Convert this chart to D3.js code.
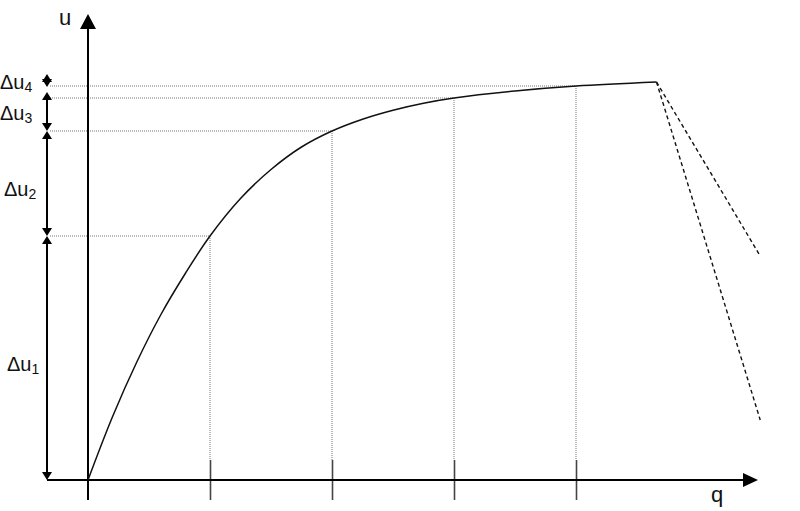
<!DOCTYPE html>
<html>
<head>
<meta charset="utf-8">
<script src="https://cdn.jsdelivr.net/npm/d3@7"></script>
<style>
html,body{margin:0;padding:0;background:#fff;}
svg{display:block;}
text{font-family:"Liberation Sans",Arial,sans-serif;fill:#111;}
</style>
</head>
<body>
<svg id="chart" width="800" height="511"></svg>
<script>
// ---- data ----
const curveQ = [0, 0.2, 0.4, 0.6, 0.8, 1.0, 1.25, 1.5, 1.75, 2.0, 2.25, 2.5, 2.75, 3.0, 3.5, 4.0, 4.66];
const curveU = [0, 63, 118, 166, 207, 244, 281.5, 310.5, 333, 349, 360.8, 369.8, 376.8, 382, 389, 394, 398];
const tickQ = [1, 2, 3, 4];
const tickU = [244, 349, 382, 394];          // levels where the curve meets each tick
const deltaLabels = ["1", "2", "3", "4"];
const deltaLow  = [0, 244, 349, 393];
const deltaHigh = [244, 349, 388, 406];
const peakQ = 4.66, peakU = 398;
const branchEndQ = [5.51, 5.51];
const branchEndU = [224, 60];

// ---- scales ----
const x = d3.scaleLinear().domain([0, 5.5]).range([88, 759]);
const y = d3.scaleLinear().domain([0, 465]).range([480, 15]);
const svg = d3.select("#chart");
const leftX = 47;

// dotted guide lines
const dotted = svg.append("g").attr("stroke", "#777").attr("stroke-width", 1).attr("stroke-dasharray", "1,1").attr("fill", "none");
tickQ.forEach((q, i) => {
  dotted.append("line").attr("x1", leftX + 3).attr("x2", x(q)).attr("y1", y(tickU[i])).attr("y2", y(tickU[i]));
  dotted.append("line").attr("x1", x(q)).attr("x2", x(q)).attr("y1", y(tickU[i])).attr("y2", y(0) - 20);
});

// ticks via d3 axes (both sides of the q axis)
const axB = d3.axisBottom(x).tickValues(tickQ).tickSize(20).tickFormat("");
const axT = d3.axisTop(x).tickValues(tickQ).tickSize(20).tickFormat("");
[axB, axT].forEach(ax => {
  const g = svg.append("g").attr("transform", `translate(0,${y(0)})`).call(ax);
  g.select(".domain").remove();
  g.selectAll(".tick line").attr("stroke", "#444").attr("stroke-width", 1.6);
});

// axes lines
svg.append("line").attr("x1", leftX).attr("x2", 744).attr("y1", y(0)).attr("y2", y(0)).attr("stroke", "#000").attr("stroke-width", 2);
svg.append("path").attr("d", `M758,${y(0)} L743,${y(0)-7} L743,${y(0)+7} Z`).attr("fill", "#000");
svg.append("line").attr("x1", x(0)).attr("x2", x(0)).attr("y1", 500).attr("y2", 28).attr("stroke", "#000").attr("stroke-width", 2);
svg.append("path").attr("d", `M${x(0)},14 L${x(0)-8},29 L${x(0)+8},29 Z`).attr("fill", "#000");

// curve
const line = d3.line().x((d, i) => x(curveQ[i])).y((d, i) => y(curveU[i])).curve(d3.curveCatmullRom.alpha(0.5));
svg.append("path").datum(curveU).attr("d", line).attr("fill", "none").attr("stroke", "#111").attr("stroke-width", 1.5);

// dashed branches
branchEndQ.forEach((q, i) => {
  svg.append("line").attr("x1", x(peakQ)).attr("y1", y(peakU)).attr("x2", x(q)).attr("y2", y(branchEndU[i]))
    .attr("stroke", "#111").attr("stroke-width", 1.4).attr("stroke-dasharray", "4,3");
});

// delta arrows on the left
const arr = svg.append("g");
deltaLow.forEach((lo, i) => {
  const yb = y(lo), yt = y(deltaHigh[i]);
  arr.append("line").attr("x1", leftX).attr("x2", leftX).attr("y1", yt + 4).attr("y2", yb - 4).attr("stroke", "#000").attr("stroke-width", 2);
  arr.append("path").attr("d", `M${leftX},${yt} L${leftX-5},${yt+8} L${leftX+5},${yt+8} Z`).attr("fill", "#000");
  arr.append("path").attr("d", `M${leftX},${yb} L${leftX-5},${yb-8} L${leftX+5},${yb-8} Z`).attr("fill", "#000");
});

// delta labels
const labelX = [7, 4, 0, 0];
const labelY = [371, 196, 120, 89];
deltaLabels.forEach((s, i) => {
  const t = svg.append("text").attr("x", labelX[i]).attr("y", labelY[i]).attr("font-size", 20);
  t.append("tspan").text("\u0394u");
  t.append("tspan").attr("font-size", 14).attr("dy", 3).text(s);
});

// axis labels
svg.append("text").attr("x", 59).attr("y", 25).attr("font-size", 22).text("u");
svg.append("text").attr("x", 711).attr("y", 502).attr("font-size", 22).text("q");
</script>
</body>
</html>
